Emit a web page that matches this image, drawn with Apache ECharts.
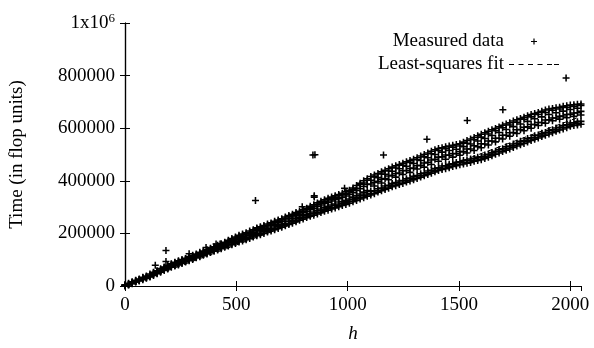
<!DOCTYPE html>
<html>
<head>
<meta charset="utf-8">
<script src="https://cdn.jsdelivr.net/npm/echarts@6/dist/echarts.min.js"></script>
<style>
  html, body { margin: 0; padding: 0; background: #fff; }
  #chart { width: 594px; height: 348px; }
</style>
</head>
<body>
<div id="chart"></div>
<script>
// h values of the measured band (step 16)
const bandH = [
  0, 16, 32, 48, 64, 80, 96,
  112, 128, 144, 160, 176, 192,
  208, 224, 240, 256, 272, 288,
  304, 320, 336, 352, 368, 384,
  400, 416, 432, 448, 464, 480, 496,
  512, 528, 544, 560, 576, 592,
  608, 624, 640, 656, 672, 688,
  704, 720, 736, 752, 768, 784,
  800, 816, 832, 848, 864, 880, 896,
  912, 928, 944, 960, 976, 992,
  1008, 1024, 1040, 1056, 1072, 1088,
  1104, 1120, 1136, 1152, 1168, 1184,
  1200, 1216, 1232, 1248, 1264, 1280, 1296,
  1312, 1328, 1344, 1360, 1376, 1392,
  1408, 1424, 1440, 1456, 1472, 1488,
  1504, 1520, 1536, 1552, 1568, 1584,
  1600, 1616, 1632, 1648, 1664, 1680, 1696,
  1712, 1728, 1744, 1760, 1776, 1792,
  1808, 1824, 1840, 1856, 1872, 1888,
  1904, 1920, 1936, 1952, 1968, 1984,
  2000, 2016, 2032, 2048
];

// times in thousands of flop units
const timeLow = [
  1, 4, 9, 15, 19, 24, 29,
  34, 40, 47, 52, 59, 65,
  71, 76, 80, 86, 91, 96,
  101, 107, 111, 117, 122, 127,
  132, 137, 142, 147, 152, 157, 162,
  167, 171, 176, 181, 186, 191,
  195, 200, 205, 209, 214, 219,
  223, 229, 234, 239, 244, 250,
  255, 260, 265, 269, 274, 279, 284,
  288, 293, 297, 301, 306, 310,
  315, 320, 325, 331, 336, 341,
  346, 351, 357, 362, 367, 372,
  377, 381, 386, 390, 395, 399, 404,
  409, 414, 419, 424, 429, 434,
  439, 443, 446, 450, 454, 457,
  461, 464, 467, 470, 474, 477,
  480, 485, 490, 495, 501, 506, 511,
  516, 521, 527, 532, 537, 542,
  548, 553, 558, 563, 568, 573,
  578, 583, 588, 593, 597, 602,
  607, 610, 612, 615
];

const timeMidLow = [
  2, 6, 11, 17, 22, 27, 32,
  38, 43, 50, 57, 63, 69,
  75, 80, 87, 91, 96, 101,
  106, 111, 117, 122, 127, 132,
  139, 143, 148, 153, 159, 164, 170,
  175, 180, 185, 192, 195, 200,
  205, 210, 214, 219, 224, 229,
  234, 238, 245, 250, 256, 261,
  267, 272, 277, 281, 288, 293, 299,
  303, 308, 312, 319, 321, 326,
  331, 338, 344, 350, 357, 363,
  359, 362, 370, 373, 380, 383,
  390, 393, 399, 401, 408, 411, 417,
  420, 427, 430, 437, 440, 447,
  450, 456, 457, 463, 465, 470,
  472, 477, 478, 483, 485, 490,
  491, 498, 501, 508, 512, 519, 522,
  529, 532, 540, 543, 550, 553,
  561, 564, 571, 574, 581, 584,
  591, 594, 601, 604, 610, 613,
  620, 621, 625, 626
];

const timeMidHigh = [
  4, 8, 14, 19, 25, 30, 35,
  41, 48, 54, 61, 67, 74,
  80, 85, 90, 95, 101, 106,
  111, 116, 122, 127, 132, 137,
  143, 149, 154, 160, 166, 172, 178,
  184, 189, 194, 199, 204, 210,
  215, 220, 224, 230, 235, 240,
  245, 251, 256, 262, 267, 273,
  279, 284, 290, 296, 302, 308, 314,
  318, 323, 328, 332, 337, 342,
  348, 355, 363, 370, 378, 386,
  388, 394, 398, 406, 409, 418,
  421, 428, 430, 438, 439, 447, 449,
  457, 459, 468, 470, 479, 482,
  490, 491, 498, 497, 504, 503,
  511, 511, 521, 521, 533, 530,
  541, 540, 551, 551, 562, 562, 573,
  573, 583, 584, 594, 595, 604,
  605, 614, 614, 622, 622, 631,
  632, 639, 639, 645, 646, 652,
  653, 658, 659, 664
];

const timeHigh = [
  5, 10, 16, 22, 27, 33, 38,
  46, 52, 58, 66, 72, 79,
  85, 90, 96, 101, 105, 112,
  117, 122, 128, 133, 138, 144,
  149, 155, 161, 166, 174, 181, 186,
  193, 198, 202, 209, 214, 219,
  225, 230, 236, 240, 246, 251,
  256, 262, 268, 273, 279, 284,
  290, 296, 303, 309, 316, 322, 328,
  334, 338, 343, 348, 353, 358,
  364, 373, 382, 391, 400, 408,
  416, 422, 428, 434, 440, 446,
  452, 457, 462, 467, 472, 477, 482,
  488, 494, 500, 506, 512, 518,
  523, 526, 529, 532, 535, 538,
  541, 547, 553, 559, 565, 571,
  577, 583, 588, 594, 599, 605, 611,
  616, 621, 627, 632, 637, 642,
  647, 652, 656, 660, 664, 669,
  673, 675, 678, 680, 683, 685,
  688, 689, 691, 692
];

// extra scattered readings inside the band
const timeExtraA = [
  3, 5, 12, 16, 24, 29, 31,
  40, 46, 49, 60, 65, 71,
  78, 88, 83, 97, 94, 109,
  104, 119, 114, 130, 125, 141,
  135, 152, 146, 163, 157, 176, 166,
  189, 177, 198, 186, 209, 195,
  221, 206, 231, 214, 242, 225,
  252, 233, 263, 244, 275, 256,
  285, 266, 298, 276, 310, 286, 322,
  296, 333, 305, 344, 313, 352,
  322, 368, 333, 386, 345, 402,
  402, 415, 412, 426, 425, 437,
  436, 449, 446, 459, 455, 470, 466,
  480, 477, 491, 488, 503, 500,
  515, 509, 522, 515, 528, 520,
  532, 530, 543, 540, 556, 551,
  566, 561, 578, 572, 590, 584, 602,
  595, 612, 606, 623, 616, 634,
  626, 643, 636, 652, 643, 660,
  652, 668, 659, 673, 665, 679,
  671, 683, 676, 686
];

const timeExtraB = [
  0, 7, 10, 20, 21, 31, 34,
  36, 50, 56, 55, 70, 67,
  83, 78, 93, 88, 103, 99,
  114, 109, 125, 120, 136, 130,
  146, 140, 157, 150, 170, 160, 182,
  171, 194, 180, 204, 190, 215,
  199, 226, 209, 236, 218, 247,
  228, 258, 238, 268, 249, 279,
  260, 292, 270, 304, 280, 316, 290,
  328, 298, 338, 308, 347, 318,
  358, 328, 372, 338, 392, 350,
  352, 380, 363, 392, 373, 404,
  384, 414, 392, 424, 402, 432, 410,
  445, 420, 452, 431, 462, 440,
  474, 449, 482, 456, 490, 463,
  497, 470, 506, 476, 515, 483,
  526, 491, 536, 502, 548, 512, 559,
  522, 569, 533, 580, 543, 590,
  554, 600, 564, 610, 574, 619,
  585, 628, 594, 634, 604, 640,
  613, 645, 618, 650
];

// isolated points away from the band
const outlierH    = [136, 184, 184, 288, 364, 409, 427, 586, 592, 796, 844, 853, 850, 850, 944, 986, 1161, 1356, 1537, 1697, 1981];
const outlierTime = [79, 93, 135, 123, 146, 160, 160, 325, 221, 301, 498, 499, 338, 343, 335, 372, 498, 558, 629, 670, 791];

// least-squares fit end points
const fitH = [0, 2048];
const fitTime = [-2, 645];

const xTicks = [0, 500, 1000, 1500, 2000];
const yTicks = [0, 200000, 400000, 600000, 800000, 1000000];

const measured = [];
[timeLow, timeMidLow, timeMidHigh, timeHigh, timeExtraA, timeExtraB].forEach((arr) => {
  bandH.forEach((h, i) => measured.push([h, arr[i] * 1000]));
});
outlierH.forEach((h, i) => measured.push([h, outlierTime[i] * 1000]));

const fitData = fitH.map((h, i) => [h, fitTime[i] * 1000]);

const font = "Liberation Serif";
const plus = "path://M3.9,0H6.1V3.9H10V6.1H6.1V10H3.9V6.1H0V3.9H3.9Z";
const legendPlus = "path://M0,0h0.01v0.01h-0.01z M12.8,8H15.2V12.8H20V15.2H15.2V20H12.8V15.2H8V12.8H12.8Z M27.99,27.99h0.01v0.01h-0.01z";
const legendDash = "path://M0,0h0.01v0.01h-0.01z M0,6.5h5v1h-5z M9.5,6.5h5v1h-5z M19,6.5h5v1h-5z M28.5,6.5h5v1h-5z M38,6.5h5v1h-5z M45,6.5h5v1h-5z M49.99,13.99h0.01v0.01h-0.01z";

const tickStyle = { show: true, inside: true, length: 5, lineStyle: { color: "#000", width: 1 } };
const lineStyle = { show: true, lineStyle: { color: "#000", width: 1.2 } };

const chart = echarts.init(document.getElementById("chart"), null, { renderer: "canvas" });
chart.setOption({
  animation: false,
  backgroundColor: "#fff",
  textStyle: { fontFamily: font, color: "#000" },
  grid: { left: 125, right: 13, top: 23, bottom: 60 },
  legend: {
    orient: "vertical",
    right: 30,
    top: 27,
    align: "right",
    itemWidth: 50,
    itemHeight: 14,
    itemGap: 4,
    symbolKeepAspect: true,
    textStyle: { fontFamily: font, fontSize: 19, color: "#000" },
    data: [
      { name: "Measured data", icon: legendPlus },
      { name: "Least-squares fit", icon: legendDash },
    ],
  },
  xAxis: [
    {
      type: "value",
      min: 0,
      max: 2048,
      interval: 500,
      name: "h",
      nameLocation: "middle",
      nameGap: 38,
      nameTextStyle: { fontFamily: font, fontSize: 19, fontStyle: "italic", color: "#000" },
      axisLine: lineStyle,
      axisTick: tickStyle,
      splitLine: { show: false },
      axisLabel: {
        fontFamily: font, fontSize: 19, color: "#000", margin: 10,
        showMaxLabel: false,
        formatter: (v) => (xTicks.includes(v) ? String(v) : ""),
      },
    },
    {
      type: "value",
      position: "top",
      min: 0,
      max: 2048,
      interval: 500,
      axisLine: lineStyle,
      axisTick: tickStyle,
      splitLine: { show: false },
      axisLabel: { show: false },
    },
  ],
  yAxis: [
    {
      type: "value",
      min: 0,
      max: 1000000,
      interval: 200000,
      name: "Time (in flop units)",
      nameLocation: "middle",
      nameGap: 98,
      nameTextStyle: { fontFamily: font, fontSize: 19, color: "#000" },
      axisLine: lineStyle,
      axisTick: tickStyle,
      splitLine: { show: false },
      axisLabel: {
        fontFamily: font, fontSize: 19, color: "#000", margin: 10,
        formatter: (v) => {
          if (v === 1000000) return "{a|1x10}{b|6}";
          return yTicks.includes(v) ? String(v) : "";
        },
        rich: {
          a: { fontFamily: font, fontSize: 19, color: "#000" },
          b: { fontFamily: font, fontSize: 13, color: "#000", verticalAlign: "top", padding: [0, 0, 9, 0] },
        },
      },
    },
    {
      type: "value",
      position: "right",
      min: 0,
      max: 1000000,
      interval: 200000,
      axisLine: lineStyle,
      axisTick: tickStyle,
      splitLine: { show: false },
      axisLabel: { show: false },
    },
  ],
  series: [
    {
      name: "Least-squares fit",
      type: "line",
      data: fitData,
      symbol: "none",
      z: 1,
      lineStyle: { color: "#000", width: 1, type: [5, 4] },
      itemStyle: { color: "#000" },
    },
    {
      name: "Measured data",
      type: "scatter",
      data: measured,
      symbol: plus,
      symbolSize: 7,
      symbolKeepAspect: true,
      z: 2,
      itemStyle: { color: "#000", opacity: 1 },
    },
  ],
});
</script>
</body>
</html>
